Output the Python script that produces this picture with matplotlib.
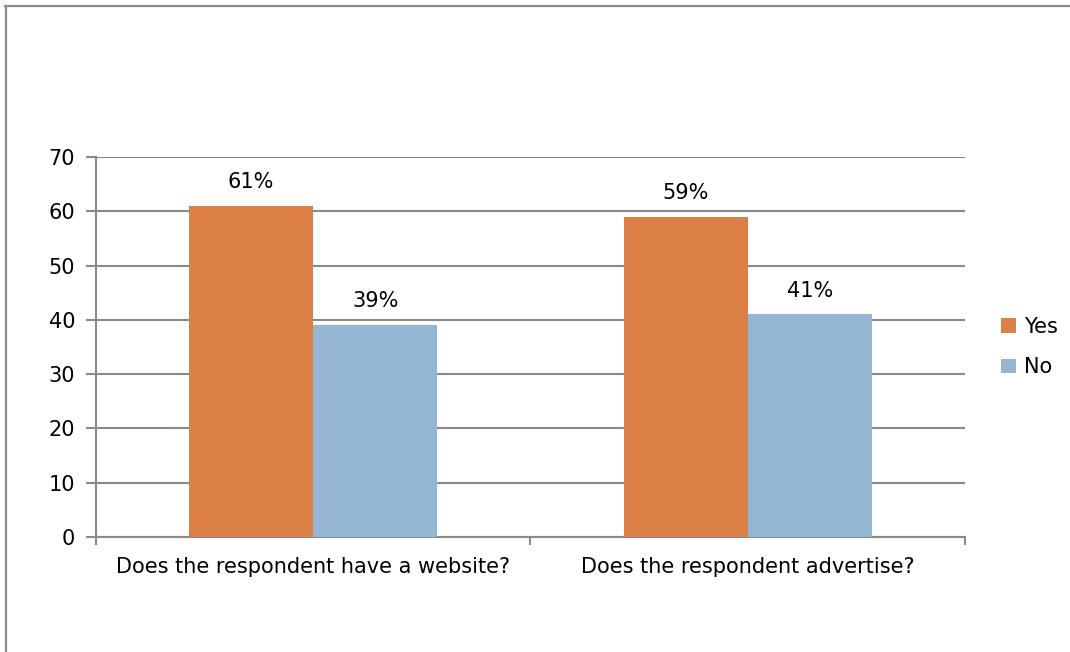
import numpy as np
import matplotlib.pyplot as plt
from matplotlib.lines import Line2D

categories = ['Does the respondent have a website?', 'Does the respondent advertise?']
yes_vals = [61, 59]
no_vals = [39, 41]
series_names = ['Yes', 'No']

col_yes = '#DD8047'
col_no = '#94B6D2'
grid_col = '#8a8a8a'

plt.rcParams['font.family'] = 'DejaVu Sans'

fig = plt.figure(figsize=(10.70, 6.52), dpi=100)
ax = fig.add_axes([96/1070, 115/652, (965-96)/1070, (537-157)/652])

# two bars per group, gap width 150% of a bar
w = 1/3.5
x = np.arange(len(categories)) + 0.5
b1 = ax.bar(x - w/2, yes_vals, w, color=col_yes, label=series_names[0], zorder=3)
b2 = ax.bar(x + w/2, no_vals, w, color=col_no, label=series_names[1], zorder=3)

for bars, vals in ((b1, yes_vals), (b2, no_vals)):
    for r, v in zip(bars, vals):
        ax.annotate(f'{v}%', (r.get_x() + r.get_width()/2, v), xytext=(0, 10),
                    textcoords='offset points', ha='center', va='bottom', fontsize=15)

ax.set_xlim(0, len(categories))
ax.set_ylim(0, 70)
ax.set_yticks(range(0, 71, 10))
ax.yaxis.grid(True, color=grid_col, linewidth=1.5, zorder=0)
ax.tick_params(axis='y', length=7, width=1.5, color=grid_col, labelsize=15, pad=8)

# category labels sit between the group dividers
ax.set_xticks([0, 1, 2])
ax.set_xticklabels([])
ax.tick_params(axis='x', length=6, width=1.5, color=grid_col)
for xi, c in zip(x, categories):
    ax.text(xi, -5.6, c, ha='center', va='center', fontsize=15)

for s in ['top', 'right']:
    ax.spines[s].set_visible(False)
for s in ['left', 'bottom']:
    ax.spines[s].set_color(grid_col)
    ax.spines[s].set_linewidth(1.5)

ax.legend(loc='center left', bbox_to_anchor=(1.02, 0.5), frameon=False, fontsize=15,
          handlelength=0.7, handleheight=0.7, handletextpad=0.4, labelspacing=1.0)

# outer chart frame: top and left edges
fig.add_artist(Line2D([5/1070, 1.0], [1 - 6/652, 1 - 6/652], color='#8c8c8c', linewidth=1.6,
                      transform=fig.transFigure))
fig.add_artist(Line2D([6/1070, 6/1070], [0, 1 - 6/652], color='#8c8c8c', linewidth=1.6,
                      transform=fig.transFigure))

fig.savefig('out.png', dpi=100)
